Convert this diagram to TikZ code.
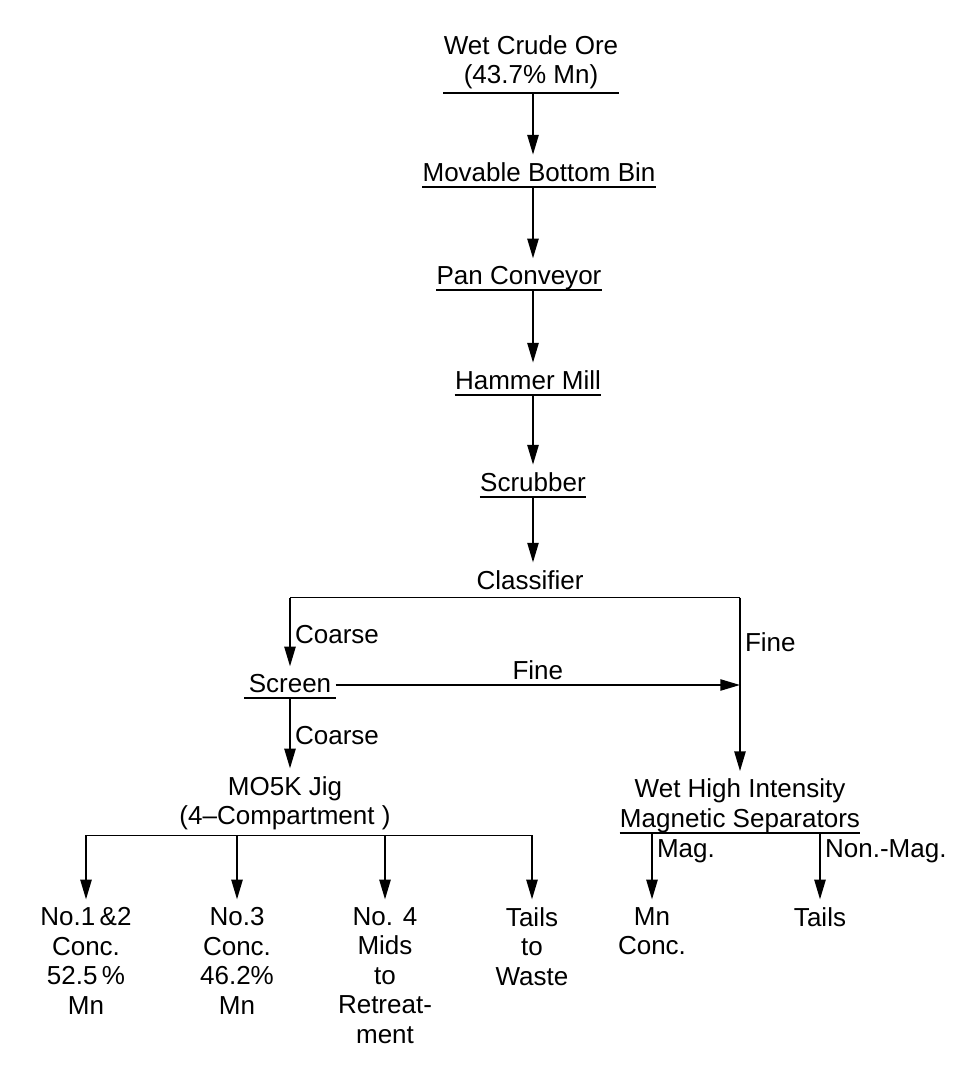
\documentclass[tikz,border=0pt]{standalone}
\usepackage{fontspec}
\setmainfont{Liberation Sans}
\usetikzlibrary{arrows.meta, calc}

\begin{document}
\begin{tikzpicture}[
  x=0.025cm, y=-0.025cm,
  every node/.style={font=\fontsize{18.5}{21}\selectfont, align=center, inner xsep=0pt, inner ysep=1.5pt},
  ul/.style={anchor=south, text depth=0.22em},
  flow/.style={draw, line width=1.2pt, -{Triangle[length=14pt, width=8pt]}, shorten >=4pt},
  lbl/.style={anchor=west, inner xsep=3pt},
]
  \useasboundingbox (0,0) rectangle (968,1065);

  % main line
  \node[ul, text depth=0.5em] (ore) at (531,93) {Wet Crude Ore\\(43.7\% Mn)};
  \node[ul] (bin) at (539,187) {Movable Bottom Bin};
  \node[ul] (pan) at (519,290) {Pan Conveyor};
  \node[ul] (mill) at (528,395) {Hammer Mill};
  \node[ul] (scrub) at (533,497) {Scrubber};
  \node (clf) at (530,580) {Classifier};
  \node[ul, inner xsep=3pt] (screen) at (290,698) {Screen};
  \node[anchor=north] (jig) at (285,774) {MO5K Jig\\(4--Compartment )};
  \node[ul] (whims) at (740,833) {Wet High Intensity\\Magnetic Separators};

  % products
  \node[anchor=north] (c1) at (86,905) {No.1\,\&2\\Conc.\\52.5\,\%\\Mn};
  \node[anchor=north] (c2) at (237,905) {No.3\\Conc.\\46.2\%\\Mn};
  \node[anchor=north] (c3) at (385,905) {No. 4\\Mids\\to\\Retreat-\\ment};
  \node[anchor=north] (c4) at (532,905) {Tails\\to\\Waste};
  \node[anchor=north] (mnconc) at (652,905) {Mn\\Conc.};
  \node[anchor=north] (tails) at (820,905) {Tails};

  \coordinate (spine) at (533,0);
  \coordinate (split) at ([yshift=-4pt]clf.south);
  \coordinate (jigbar) at ([yshift=-2pt]jig.south);

  \foreach \n in {ore,bin,pan,mill,scrub,screen,whims}
    \draw[line width=1.2pt] (\n.south west) -- (\n.south east);

  \foreach \a/\b in {ore/bin,bin/pan,pan/mill,mill/scrub,scrub/clf}
    \draw[flow] (spine |- \a.south) -- (spine |- \b.north);

  % classifier split
  \draw[line width=1.2pt] (split -| screen) -- (split -| whims);
  \draw[flow] (split -| screen) -- node[lbl]{Coarse} (screen.north);
  \draw[flow] (split -| whims) -- node[lbl, pos=0.25]{Fine} (whims.north);
  \draw[flow, shorten >=0pt] (screen.east) -- node[above, inner ysep=3pt]{Fine} (screen.east -| whims);
  \draw[flow] (screen.south) -- node[lbl]{Coarse} (screen.south |- jig.north);

  % jig products
  \draw[line width=1.2pt] (jigbar -| c1) -- (jigbar -| c4);
  \foreach \c in {c1,c2,c3,c4}
    \draw[flow] (jigbar -| \c) -- (\c.north);

  % magnetic separation
  \draw[flow] (whims.south -| mnconc) -- node[lbl, pos=0.25]{Mag.} (mnconc.north);
  \draw[flow] (whims.south -| tails) -- node[lbl, pos=0.25]{Non.-Mag.} (tails.north);
\end{tikzpicture}
\end{document}
